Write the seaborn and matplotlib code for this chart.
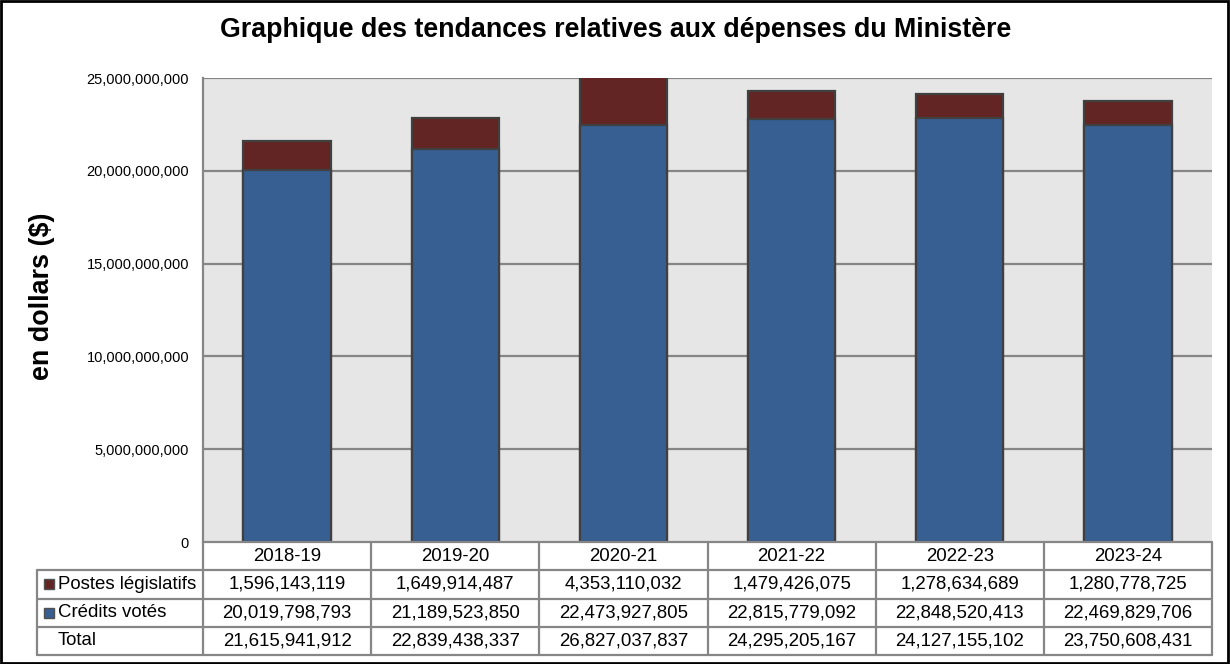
"""
Graphique des tendances relatives aux dépenses du Ministère
Stacked bars (crédits votés + postes législatifs) with a data table below
"""

import matplotlib
matplotlib.use('Agg')
import matplotlib.pyplot as plt
from matplotlib.patches import Rectangle
import pandas as pd
import seaborn as sns

sns.set_theme(style='white')
plt.rcParams['font.family'] = ['Liberation Sans', 'DejaVu Sans']
plt.rcParams['text.color'] = 'black'
plt.rcParams['ytick.color'] = 'black'

# Data
years = ['2018-19', '2019-20', '2020-21', '2021-22', '2022-23', '2023-24']
postes_legislatifs = [1596143119, 1649914487, 4353110032, 1479426075, 1278634689, 1280778725]
credits_votes = [20019798793, 21189523850, 22473927805, 22815779092, 22848520413, 22469829706]
totals = [21615941912, 22839438337, 26827037837, 24295205167, 24127155102, 23750608431]
y_ticks = [0, 5e9, 10e9, 15e9, 20e9, 25e9]

df = pd.DataFrame({'annee': years, 'postes': postes_legislatifs,
                   'credits': credits_votes, 'total': totals})

RED = '#632523'
BLUE = '#375F91'
EDGE = '#404040'
GRID = '#868686'

W, H = 1230, 664
fig = plt.figure(figsize=(W / 100, H / 100), dpi=100)

# plot area in pixels: x 203..1212, y 78..542
ax = fig.add_axes([203 / W, (H - 542) / H, 1009 / W, 464 / H])
ax.set_facecolor('#e6e6e6')

# stacked: draw total height in red, then votes on top in blue
sns.barplot(data=df, x='annee', y='total', color=RED, width=0.52,
            edgecolor=EDGE, linewidth=1.6, saturation=1, ax=ax, zorder=3)
sns.barplot(data=df, x='annee', y='credits', color=BLUE, width=0.52,
            edgecolor=EDGE, linewidth=1.6, saturation=1, ax=ax, zorder=4)

ax.set_ylim(0, 25e9)
ax.set_xlim(-0.5, 5.5)
ax.set_yticks(y_ticks)
ax.set_yticklabels([f'{int(v):,}' for v in y_ticks], fontsize=10.5)
ax.tick_params(axis='y', length=0, pad=10)
ax.set_xticks([])
ax.set_xlabel('')
ax.set_ylabel('')
for v in y_ticks[1:]:
    ax.axhline(v, color=GRID, linewidth=1.6, zorder=2)
for side in ['top', 'right', 'bottom']:
    ax.spines[side].set_visible(False)
ax.spines['left'].set_color(GRID)
ax.spines['left'].set_linewidth(1.6)

fig.text(616 / W, 1 - 30 / H, 'Graphique des tendances relatives aux dépenses du Ministère',
         ha='center', va='center', fontsize=19.3, fontweight='bold')
fig.text(42 / W, 1 - 296 / H, 'en dollars ($)', rotation=90, ha='center', va='center',
         fontsize=19.4, fontweight='bold')

# data table below (same category scale as the bars)
tab = fig.add_axes([37 / W, (H - 655) / H, 1175 / W, 113 / H])
label_w = 166 / (1009 / 6)
tab.set_xlim(-0.5 - label_w, 5.5)
tab.set_ylim(0, 4)
tab.axis('off')

lw = 1.6
# horizontal lines
tab.plot([-0.5, 5.5], [4, 4], color=GRID, lw=lw, clip_on=False)
for yy in [3, 2, 1, 0]:
    tab.plot([-0.5 - label_w, 5.5], [yy, yy], color=GRID, lw=lw, clip_on=False)
# vertical lines
tab.plot([-0.5 - label_w] * 2, [0, 3], color=GRID, lw=lw, clip_on=False)
for i in range(7):
    tab.plot([i - 0.5] * 2, [0, 4], color=GRID, lw=lw, clip_on=False)

rows = [('Postes législatifs', postes_legislatifs, RED),
        ('Crédits votés', credits_votes, BLUE),
        ('Total', totals, None)]
fs = 13.4
for i, yr in enumerate(years):
    tab.text(i, 3.5, yr, ha='center', va='center', fontsize=fs)
for r, (name, vals, col) in enumerate(rows):
    yc = 2.5 - r
    x0 = -0.5 - label_w
    if col is not None:
        tab.add_patch(Rectangle((x0 + 0.04, yc - 0.18), 0.06, 0.36,
                                facecolor=col, edgecolor='#505050', lw=1.0))
    tab.text(x0 + 0.125, yc, name, ha='left', va='center', fontsize=fs)
    for i, v in enumerate(vals):
        tab.text(i, yc, f'{v:,}', ha='center', va='center', fontsize=fs)

# outer border
fig.patches.append(Rectangle((0.001, 0.002), 0.997, 0.996, transform=fig.transFigure,
                             fill=False, edgecolor='black', linewidth=2))

fig.savefig('out.png', dpi=100, facecolor='white')
